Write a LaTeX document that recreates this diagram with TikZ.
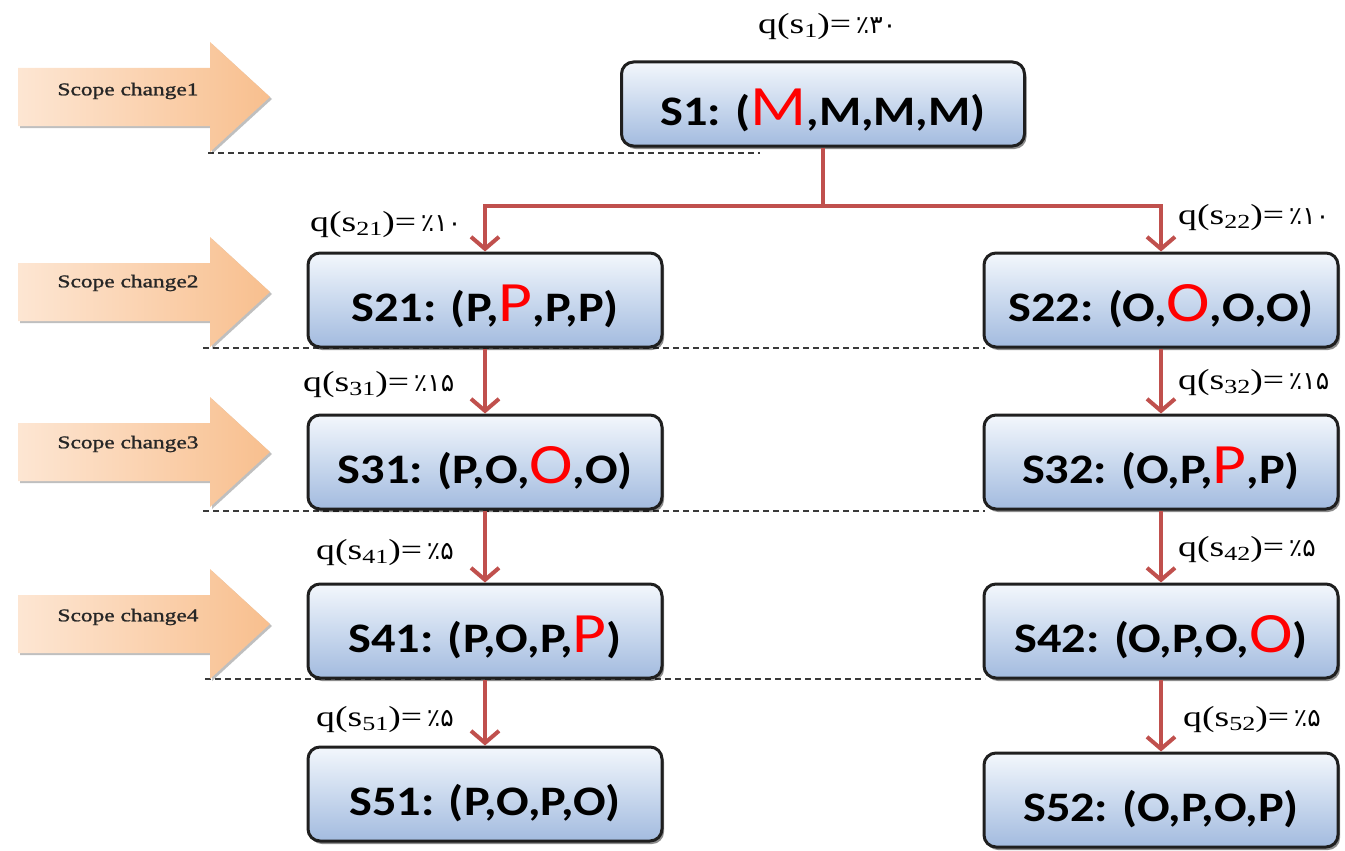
\documentclass[tikz,border=0pt]{standalone}
\usepackage{fontspec}
\usetikzlibrary{arrows.meta,shadows}
\setmainfont{Liberation Serif}
\newfontfamily\boxfont[FakeStretch=1.15]{Carlito}
\newfontfamily\labfont[FakeStretch=1.3]{Liberation Serif}
\newfontfamily\scfont[FakeStretch=1.3,FakeBold=1.2]{Liberation Serif}
\newfontfamily\perfont{DejaVu Sans}
\definecolor{conncol}{HTML}{C0504D}
\definecolor{boxtop}{HTML}{F3F7FC}
\definecolor{boxmid}{HTML}{CAD9EE}
\definecolor{boxbot}{HTML}{A3BBDF}
\definecolor{arrl}{HTML}{FDE6D3}
\definecolor{arrr}{HTML}{F8BF8E}
\definecolor{dashcol}{HTML}{3A3A3A}
\newcommand\rl[1]{{\color{red}\mdseries\fontsize{57}{57}\selectfont #1}}
\newcommand\qv[2]{q(s\raisebox{-4pt}{\fontsize{20}{20}\selectfont #1})=\,{\perfont\fontsize{25}{25}\selectfont #2}}
\tikzset{
  statebox/.style={rectangle, rounded corners=12pt, draw=black!88, line width=3pt,
    top color=boxtop, bottom color=boxbot, middle color=boxmid,
    minimum width=354pt, minimum height=94pt, inner sep=0pt,
    text height=43pt, text depth=0pt,
    font=\boxfont\bfseries\fontsize{42}{42}\selectfont,
    drop shadow={shadow xshift=2pt, shadow yshift=-3pt, opacity=0.45, fill=black}},
  conn/.style={draw=conncol, line width=4pt, line join=miter,
    -{Straight Barb[length=12pt,width=28pt]}},
  qlab/.style={inner sep=0pt, anchor=west, font=\labfont\fontsize{29}{32}\selectfont},
  dashline/.style={draw=dashcol, line width=1.5pt, dash pattern=on 6pt off 4pt},
  scopearrow/.style={left color=arrl, right color=arrr, draw=none,
    drop shadow={shadow xshift=2pt, shadow yshift=-2pt, opacity=0.25, fill=black}},
  scopetext/.style={inner sep=0pt, font=\scfont\fontsize{18}{20}\selectfont, text=black!85}
}
\begin{document}
\begin{tikzpicture}[x=1pt,y=-1pt]
\useasboundingbox (0,0) rectangle (1345,851);

% dashed separators
\draw[dashline] (208,153) -- (760,153);
\draw[dashline] (203,348) -- (985,348);
\draw[dashline] (203,511) -- (985,511);
\draw[dashline] (205,679) -- (985,679);

% scope change arrows
\foreach \yy/\nn/\ty in {97/1/91, 292/2/283, 452/3/444, 624/4/617}{
  \path[scopearrow] (18,\yy-29) -- (210,\yy-29) -- (210,\yy-55) -- (270,\yy)
     -- (210,\yy+55) -- (210,\yy+29) -- (18,\yy+29) -- cycle;
  \node[scopetext] (sc\nn) at (128,\ty) {Scope change\nn};
}

% state boxes
\node[statebox, minimum width=403pt, minimum height=84pt] (s1) at (823,104) {S1: (\rl{M},M,M,M)};
\node[statebox] (s21) at (485,300) {S21: (P,\rl{P},P,P)};
\node[statebox] (s22) at (1161,300) {S22: (O,\rl{O},O,O)};
\node[statebox] (s31) at (485,462) {S31: (P,O,\rl{O},O)};
\node[statebox] (s32) at (1161,462) {S32: (O,P,\rl{P},P)};
\node[statebox] (s41) at (485,631) {S41: (P,O,P,\rl{P})};
\node[statebox] (s42) at (1161,631) {S42: (O,P,O,\rl{O})};
\node[statebox] (s51) at (485,794) {S51: (P,O,P,O)};
\node[statebox] (s52) at (1161,800) {S52: (O,P,O,P)};

% connectors
\draw[conn] (s1.south) -- ++(0,58) -| (s21.north);
\draw[conn] (s1.south) -- ++(0,58) -| (s22.north);
\draw[conn] (s21.south) -- (s31.north);
\draw[conn] (s22.south) -- (s32.north);
\draw[conn] (s31.south) -- (s41.north);
\draw[conn] (s32.south) -- (s42.north);
\draw[conn] (s41.south) -- (s51.north);
\draw[conn] (s42.south) -- (s52.north);

% probability labels
\node[qlab] (q1) at (758,27) {\qv{1}{٪۳۰}};
\node[qlab] (q21) at (310,225) {\qv{21}{٪۱۰}};
\node[qlab] (q22) at (1178,218) {\qv{22}{٪۱۰}};
\node[qlab] (q31) at (303,385) {\qv{31}{٪۱۵}};
\node[qlab] (q32) at (1178,383) {\qv{32}{٪۱۵}};
\node[qlab] (q41) at (316,553) {\qv{41}{٪۵}};
\node[qlab] (q42) at (1178,550) {\qv{42}{٪۵}};
\node[qlab] (q51) at (316,720) {\qv{51}{٪۵}};
\node[qlab] (q52) at (1183,720) {\qv{52}{٪۵}};
\end{tikzpicture}
\end{document}
